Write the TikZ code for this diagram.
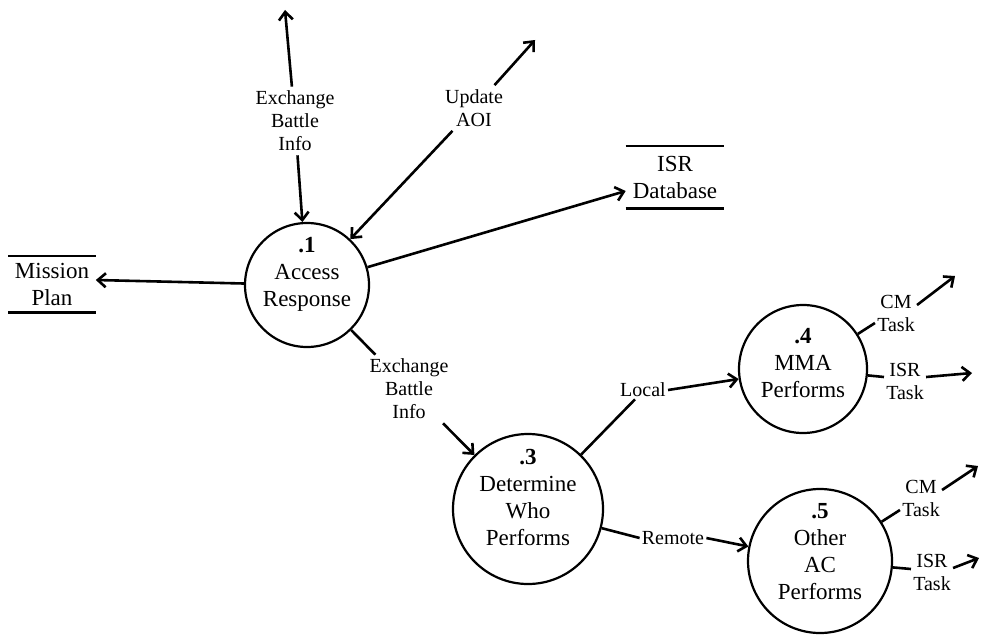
\documentclass[tikz,border=0pt]{standalone}
\usepackage{fontspec}
\setmainfont{Liberation Serif}
\usetikzlibrary{arrows.meta,calc}
\begin{document}
\begin{tikzpicture}[x=1pt,y=-1pt,line width=2.6pt,
  >={Straight Barb[length=8pt,width=14pt]},
  bubble/.style={circle,draw,line width=2.2pt,inner sep=0pt,minimum size=#1},
  bubtext/.style={align=center,font=\fontsize{23}{27}\selectfont,inner sep=0pt},
  flowlab/.style={align=center,font=\fontsize{20}{23}\selectfont,inner sep=3pt},
  tasklab/.style={flowlab,inner sep=1pt},
  store/.style={align=center,font=\fontsize{23}{27}\selectfont,inner sep=0pt,minimum width=#1,minimum height=54pt},
  storeline/.style={line width=2.4pt}
]
\useasboundingbox (0,0) rectangle (981,634);

% processes
\node[bubble=124pt] (c1) at (307,285) {};
\node[bubtext] (t1) at (307,274) {\textbf{.1}\\Access\\Response};
\node[bubble=150pt] (c3) at (528,509) {};
\node[bubtext] (t3) at (528,497) {\textbf{.3}\\Determine\\Who\\Performs};
\node[bubble=128pt] (c4) at (803,369) {};
\node[bubtext] (t4) at (803,363) {\textbf{.4}\\MMA\\Performs};
\node[bubble=144pt] (c5) at (820,561) {};
\node[bubtext] (t5) at (820,552) {\textbf{.5}\\Other\\AC\\Performs};

% data stores
\node[store=85pt] (mp) at (52,284) {Mission\\Plan};
\draw[storeline] (mp.north west) -- (mp.north east) (mp.south west) -- (mp.south east);
\node[store=96pt,minimum height=60pt] (isr) at (675,177) {ISR\\Database};
\draw[storeline] (isr.north west) -- (isr.north east) (isr.south west) -- (isr.south east);

% flows of process .1
\node[flowlab] (xb1) at (295,121) {Exchange\\Battle\\Info};
\coordinate (xb1end) at (285,10);
\draw[->] (xb1) -- (xb1end);
\draw[->] (xb1) -- (c1);

\node[flowlab] (aoi) at (474,108) {Update\\AOI};
\coordinate (aoiend) at (535,40);
\draw[->] (aoi) -- (aoiend);
\draw[->] (aoi) -- (c1);

\draw[->] (c1) -- ([yshift=-14pt]isr.west);
\draw[->] (c1) -- ([yshift=4pt]mp.east);

\node[flowlab] (xb2) at (409,389) {Exchange\\Battle\\Info};
\draw (c1) -- (xb2);
\draw[->] (xb2) -- (c3);

% flows of process .3
\node[tasklab] (loc) at (643,390) {Local};
\draw (c3) -- ([xshift=-8pt]loc.south);
\draw[->] (loc.east) -- (c4);

\node[tasklab] (rem) at (673,538) {Remote};
\draw (c3) -- (rem.west);
\draw[->] (rem.east) -- (c5);

% flows of process .4
\node[tasklab] (cm4) at (896,313) {CM\\Task};
\coordinate (cm4end) at (955,276);
\draw (c4) -- ([yshift=-10pt]cm4.west);
\draw[->] ([yshift=8pt]cm4.east) -- (cm4end);

\node[tasklab] (isr4) at (905,381) {ISR\\Task};
\coordinate (isr4end) at (972,373);
\draw (c4) -- ([yshift=4pt]isr4.west);
\draw[->] ([yshift=4pt]isr4.east) -- (isr4end);

% flows of process .5
\node[tasklab] (cm5) at (921,498) {CM\\Task};
\coordinate (cm5end) at (978,466);
\draw (c5) -- ([yshift=-12pt]cm5.west);
\draw[->] ([yshift=8pt]cm5.east) -- (cm5end);

\node[tasklab] (isr5) at (932,572) {ISR\\Task};
\coordinate (isr5end) at (979,558);
\draw (c5) -- ([yshift=3pt]isr5.west);
\draw[->] ([yshift=4pt]isr5.east) -- (isr5end);
\end{tikzpicture}
\end{document}
